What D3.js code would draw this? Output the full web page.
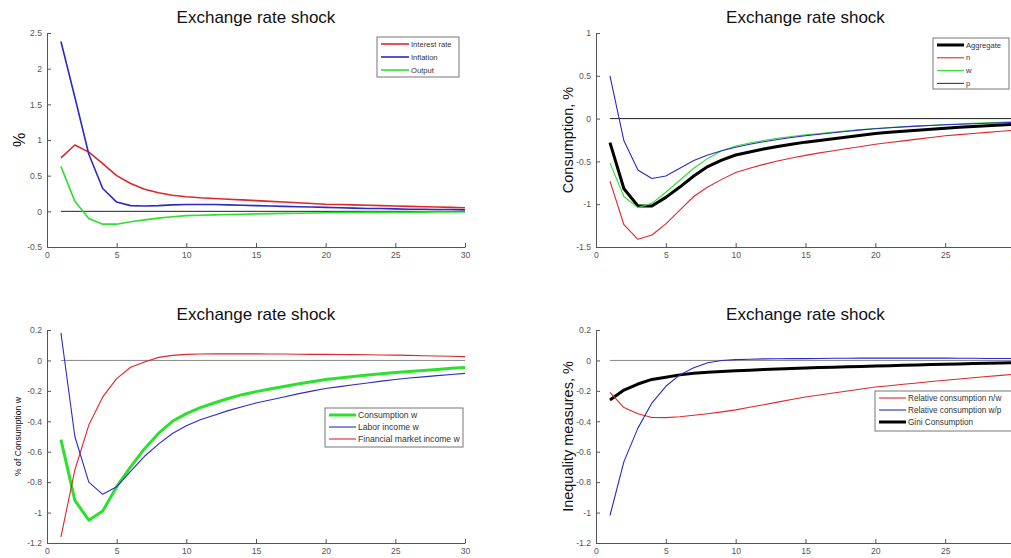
<!DOCTYPE html>
<html>
<head>
<meta charset="utf-8">
<script src="https://cdn.jsdelivr.net/npm/d3@7"></script>
<style>
  body { margin: 0; background: #fff; }
  svg { display: block; font-family: "Liberation Sans", Arial, sans-serif; }
</style>
</head>
<body>
<div id="chart"></div>
<script>
// periods on the x axis
var periods = [1,2,3,4,5,6,7,8,9,10,11,12,13,14,15,16,17,18,19,20,21,22,23,24,25,26,27,28,29,30];

// panel 1: macro variables
var interestRate = [0.75,0.93,0.83,0.67,0.50,0.39,0.31,0.26,0.225,0.205,0.19,0.18,0.17,0.16,0.15,0.14,0.13,0.12,0.11,0.10,0.095,0.09,0.085,0.08,0.075,0.07,0.065,0.06,0.055,0.05];
var inflation = [2.38,1.60,0.80,0.32,0.13,0.08,0.075,0.08,0.09,0.095,0.095,0.095,0.09,0.085,0.08,0.075,0.07,0.065,0.06,0.055,0.05,0.045,0.04,0.04,0.035,0.03,0.03,0.025,0.025,0.02];
var output = [0.63,0.14,-0.10,-0.18,-0.18,-0.145,-0.12,-0.095,-0.075,-0.06,-0.055,-0.05,-0.045,-0.04,-0.036,-0.032,-0.029,-0.026,-0.023,-0.02,-0.018,-0.016,-0.015,-0.014,-0.013,-0.012,-0.011,-0.01,-0.01,-0.01];

// panel 2: consumption by group
var aggregate = [-0.28,-0.82,-1.02,-1.02,-0.92,-0.80,-0.67,-0.56,-0.485,-0.425,-0.39,-0.355,-0.325,-0.30,-0.275,-0.255,-0.235,-0.215,-0.195,-0.175,-0.16,-0.148,-0.136,-0.124,-0.112,-0.102,-0.093,-0.084,-0.076,-0.068];
var consN = [-0.73,-1.24,-1.41,-1.36,-1.23,-1.07,-0.91,-0.80,-0.71,-0.63,-0.58,-0.535,-0.495,-0.46,-0.43,-0.40,-0.375,-0.35,-0.325,-0.30,-0.28,-0.26,-0.24,-0.22,-0.20,-0.187,-0.174,-0.161,-0.148,-0.135];
var consW = [-0.52,-0.91,-1.04,-0.99,-0.86,-0.72,-0.58,-0.465,-0.375,-0.32,-0.285,-0.255,-0.23,-0.21,-0.19,-0.174,-0.158,-0.143,-0.128,-0.115,-0.105,-0.096,-0.087,-0.078,-0.07,-0.063,-0.056,-0.049,-0.042,-0.036];
var consP = [0.50,-0.26,-0.60,-0.70,-0.67,-0.58,-0.49,-0.425,-0.375,-0.335,-0.30,-0.27,-0.245,-0.22,-0.20,-0.182,-0.165,-0.148,-0.132,-0.118,-0.107,-0.097,-0.088,-0.08,-0.072,-0.066,-0.06,-0.055,-0.05,-0.046];

// panel 3: consumption and income of w
var consumptionW = [-0.52,-0.92,-1.05,-0.99,-0.83,-0.70,-0.58,-0.48,-0.40,-0.35,-0.31,-0.28,-0.25,-0.225,-0.205,-0.188,-0.171,-0.155,-0.14,-0.125,-0.115,-0.105,-0.096,-0.088,-0.08,-0.073,-0.066,-0.059,-0.052,-0.046];
var laborIncomeW = [0.18,-0.50,-0.80,-0.88,-0.83,-0.73,-0.63,-0.55,-0.48,-0.43,-0.39,-0.36,-0.33,-0.305,-0.28,-0.26,-0.24,-0.22,-0.202,-0.185,-0.172,-0.16,-0.148,-0.136,-0.125,-0.116,-0.108,-0.1,-0.092,-0.085];
var financialIncomeW = [-1.16,-0.72,-0.425,-0.24,-0.12,-0.045,-0.01,0.02,0.033,0.04,0.042,0.043,0.043,0.043,0.043,0.042,0.042,0.041,0.04,0.04,0.039,0.038,0.037,0.036,0.035,0.033,0.031,0.029,0.027,0.025];

// panel 4: inequality measures
var relConsNW = [-0.21,-0.31,-0.35,-0.375,-0.376,-0.37,-0.36,-0.35,-0.338,-0.325,-0.308,-0.291,-0.274,-0.257,-0.24,-0.227,-0.214,-0.201,-0.188,-0.175,-0.166,-0.157,-0.148,-0.139,-0.13,-0.122,-0.114,-0.106,-0.098,-0.09];
var relConsWP = [-1.02,-0.665,-0.445,-0.28,-0.17,-0.095,-0.048,-0.015,0.0,0.005,0.008,0.01,0.011,0.012,0.012,0.013,0.014,0.014,0.015,0.015,0.015,0.015,0.015,0.015,0.015,0.014,0.014,0.013,0.013,0.012];
var giniConsumption = [-0.26,-0.195,-0.155,-0.125,-0.11,-0.095,-0.085,-0.077,-0.072,-0.068,-0.064,-0.06,-0.057,-0.053,-0.05,-0.047,-0.045,-0.042,-0.04,-0.037,-0.035,-0.032,-0.03,-0.027,-0.025,-0.023,-0.021,-0.019,-0.017,-0.015];

var xTicks = [0,5,10,15,20,25,30];
var yTicksTop1 = [-0.5,0,0.5,1,1.5,2,2.5];
var yTicksTop2 = [-1.5,-1,-0.5,0,0.5,1];
var yTicksBottom = [-1.2,-1,-0.8,-0.6,-0.4,-0.2,0,0.2];

var RED = "#e0262a", BLUE = "#2a2ac4", GREEN = "#2ee02e", BLACK = "#000";

var width = 1011, height = 558;
var svg = d3.select("#chart").append("svg")
    .attr("width", width)
    .attr("height", height);

var panels = [
    {
        left: 47, right: 465, top: 33, bottom: 247, domain: [-0.5, 2.5], yTicks: yTicksTop1,
        title: "Exchange rate shock", titleY: 23,
        yLabel: "%", yLabelX: 19, yLabelSize: 16, zeroColor: "#222",
        legend: {x: 377, y: 37, w: 82, h: 40, lineLen: 28, fontSize: 7.6, rowH: 13},
        series: [
            {name: "Interest rate", values: interestRate, color: RED, width: 1.6},
            {name: "Inflation", values: inflation, color: BLUE, width: 1.6},
            {name: "Output", values: output, color: GREEN, width: 1.6}
        ]
    },
    {
        left: 596, right: 1015, top: 33, bottom: 247, domain: [-1.5, 1], yTicks: yTicksTop2,
        title: "Exchange rate shock", titleY: 23,
        yLabel: "Consumption, %", yLabelX: 568, yLabelSize: 14.5, zeroColor: "#222",
        legend: {x: 933, y: 38, w: 76, h: 51, lineLen: 27, fontSize: 7.6, rowH: 12.8},
        series: [
            {name: "Aggregate", values: aggregate, color: BLACK, width: 3},
            {name: "n", values: consN, color: RED, width: 1.1},
            {name: "w", values: consW, color: GREEN, width: 1.1},
            {name: "p", values: consP, color: BLUE, width: 1.1}
        ]
    },
    {
        left: 47, right: 465, top: 330, bottom: 543, domain: [-1.2, 0.2], yTicks: yTicksBottom,
        title: "Exchange rate shock", titleY: 320,
        yLabel: "% of Consumption w", yLabelX: 18, yLabelSize: 8.6, zeroColor: "#888",
        legend: {x: 325, y: 408, w: 138, h: 39, lineLen: 27, fontSize: 8.6, rowH: 12},
        series: [
            {name: "Consumption w", values: consumptionW, color: GREEN, width: 3},
            {name: "Labor income w", values: laborIncomeW, color: BLUE, width: 1.1},
            {name: "Financial market income w", values: financialIncomeW, color: RED, width: 1.1}
        ]
    },
    {
        left: 596, right: 1015, top: 330, bottom: 543, domain: [-1.2, 0.2], yTicks: yTicksBottom,
        title: "Exchange rate shock", titleY: 320,
        yLabel: "Inequality measures, %", yLabelX: 568, yLabelSize: 14.5, zeroColor: "#888",
        legend: {x: 875, y: 391, w: 140, h: 40, lineLen: 27, fontSize: 8.2, rowH: 12},
        series: [
            {name: "Relative consumption n/w", values: relConsNW, color: RED, width: 1.1},
            {name: "Relative consumption w/p", values: relConsWP, color: BLUE, width: 1.1},
            {name: "Gini Consumption", values: giniConsumption, color: BLACK, width: 3}
        ]
    }
];

var fmt = function(d) { return String(+d.toFixed(1)); };

panels.forEach(drawPanel);

function drawPanel(p)
{
    var x = d3.scaleLinear().domain([0, 30]).range([p.left, p.right]);
    var y = d3.scaleLinear().domain(p.domain).range([p.bottom, p.top]);

    var g = svg.append("g");

    // axes (ticks point inward, like MATLAB)
    var xAxis = g.append("g")
        .attr("transform", "translate(0," + p.bottom + ")")
        .call(d3.axisBottom(x).tickValues(xTicks).tickSizeInner(-4).tickSizeOuter(0).tickPadding(5).tickFormat(fmt));
    var yAxis = g.append("g")
        .attr("transform", "translate(" + p.left + ",0)")
        .call(d3.axisLeft(y).tickValues(p.yTicks).tickSizeInner(-4).tickSizeOuter(0).tickPadding(5).tickFormat(fmt));

    [xAxis, yAxis].forEach(function(a) {
        a.select(".domain").attr("stroke", "#555").attr("stroke-width", 1);
        a.selectAll(".tick line").attr("stroke", "#555");
        a.selectAll(".tick text")
            .attr("fill", "#555")
            .style("font-size", "8.6px")
            .style("font-family", "'Liberation Sans', Arial, sans-serif");
    });

    // zero line
    g.append("line")
        .attr("x1", x(1)).attr("x2", x(30))
        .attr("y1", y(0)).attr("y2", y(0))
        .attr("stroke", p.zeroColor)
        .attr("stroke-width", 1);

    var line = d3.line()
        .x(function(d, i) { return x(periods[i]); })
        .y(function(d) { return y(d); });

    // draw thick series first so thin ones stay visible on top
    p.series.slice().sort(function(a, b) { return b.width - a.width; }).forEach(function(s) {
        g.append("path")
            .datum(s.values)
            .attr("d", line)
            .attr("fill", "none")
            .attr("stroke", s.color)
            .attr("stroke-width", s.width)
            .attr("stroke-linejoin", "round");
    });

    // title
    g.append("text")
        .attr("x", (p.left + p.right) / 2)
        .attr("y", p.titleY)
        .attr("text-anchor", "middle")
        .style("font-size", "17px")
        .attr("fill", "#111")
        .text(p.title);

    // y label
    var cy = (p.top + p.bottom) / 2;
    g.append("text")
        .attr("transform", "translate(" + p.yLabelX + "," + cy + ") rotate(-90)")
        .attr("text-anchor", "middle")
        .attr("dy", "0.35em")
        .style("font-size", p.yLabelSize + "px")
        .attr("fill", "#111")
        .text(p.yLabel);

    // legend
    var L = p.legend;
    var lg = g.append("g").attr("transform", "translate(" + L.x + "," + L.y + ")");
    lg.append("rect")
        .attr("width", L.w).attr("height", L.h)
        .attr("fill", "#fff")
        .attr("stroke", "#777")
        .attr("stroke-width", 1);
    p.series.forEach(function(s, i) {
        var ry = 7 + i * L.rowH;
        lg.append("line")
            .attr("x1", 4).attr("x2", 4 + L.lineLen)
            .attr("y1", ry).attr("y2", ry)
            .attr("stroke", s.color)
            .attr("stroke-width", s.width);
        lg.append("text")
            .attr("x", 6 + L.lineLen)
            .attr("y", ry)
            .attr("dy", "0.35em")
            .style("font-size", L.fontSize + "px")
            .attr("fill", "#333")
            .text(s.name);
    });
}
</script>
</body>
</html>
